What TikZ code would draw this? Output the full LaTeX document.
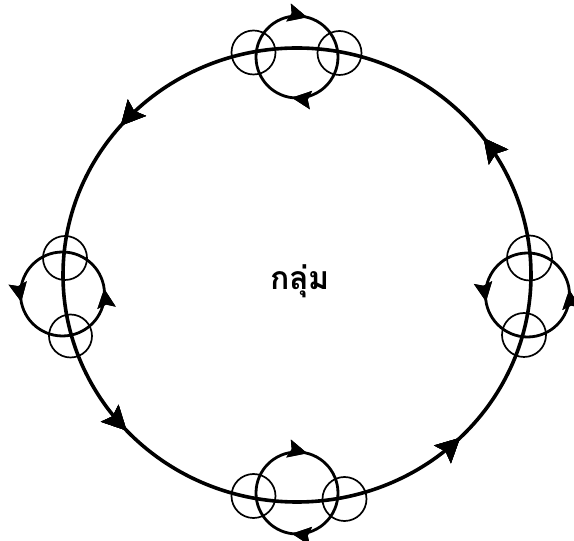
\documentclass[tikz,border=0pt]{standalone}
\usepackage{fontspec}
\newfontfamily\thaifont[Script=Thai]{Loma}
\usetikzlibrary{arrows.meta, decorations.markings}

\begin{document}
\begin{tikzpicture}[
    x=1pt, y=1pt,
    orbit/.style={line width=3.6pt},
    loopline/.style={line width=2.8pt},
    ring/.style={line width=1.7pt},
    bigtip/.style={decoration={markings,
        mark=at position #1 with {\arrow{Stealth[length=24pt,width=24pt,inset=4pt]}}}, postaction={decorate}},
    smalltip/.style={decoration={markings,
        mark=at position #1 with {\arrow{Stealth[length=19pt,width=18pt,inset=3pt]}}}, postaction={decorate}}
]
    \useasboundingbox (0,0) rectangle (574,541);

    % Small rings where the loops cross the big circle
    \draw[ring] (253.5,488.5) circle (22);
    \draw[ring] (339.5,488) circle (22);
    \draw[ring] (65,283) circle (22);
    \draw[ring] (70.5,205) circle (21.5);
    \draw[ring] (529.5,283) circle (22.5);
    \draw[ring] (524,206) circle (22);
    \draw[ring] (253.5,45) circle (22);
    \draw[ring] (344.5,42) circle (22);

    % Loops (top and bottom clockwise, sides counterclockwise)
    \draw[loopline, smalltip=0.27, smalltip=0.79]
        (338,484) arc[start angle=0, end angle=-360, radius=41];
    \draw[loopline, smalltip=0.27, smalltip=0.79]
        (338,48) arc[start angle=0, end angle=-360, radius=41];
    \draw[loopline, smalltip=0.02, smalltip=0.53] (62.5,247) circle (42);
    \draw[loopline, smalltip=0.02, smalltip=0.525] (527.5,246) circle (42);

    % Big circle
    \draw[orbit, bigtip=0.102, bigtip=0.387, bigtip=0.619, bigtip=0.874]
        (297,266) ellipse [x radius=234, y radius=227];

    % Label
    \node[anchor=base, font=\thaifont\bfseries\fontsize{32}{36}\selectfont] (group) at (300,251) {กลุ่ม};
\end{tikzpicture}
\end{document}
